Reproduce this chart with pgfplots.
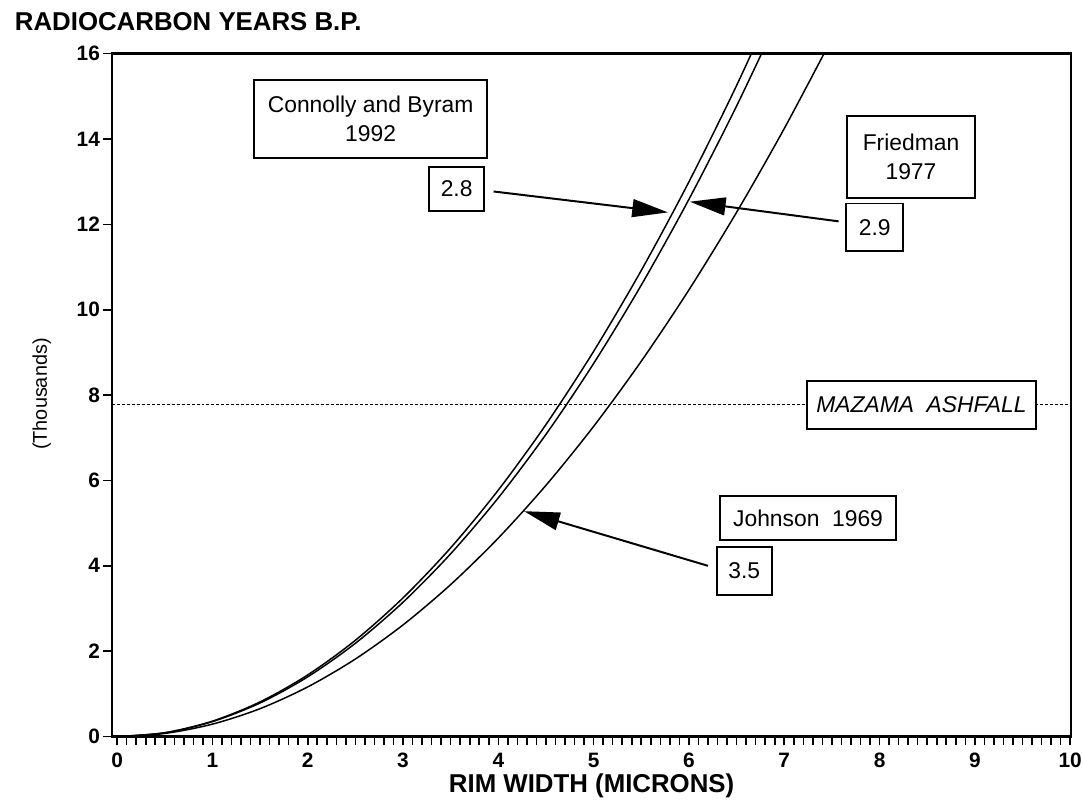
\documentclass[border=0pt]{standalone}
\usepackage{pgfplots}
\pgfplotsset{compat=1.18}
\usepackage{fontspec}
\setmainfont{Liberation Sans}
\usetikzlibrary{arrows.meta}
\tikzset{
  box/.style={draw, line width=1pt, fill=white, inner sep=0pt, align=center,
     font=\fontsize{11.5}{14.5}\selectfont},
  arr/.style={line width=1pt, -{Triangle[length=18pt,width=9pt]}},
}

\begin{document}
\begin{tikzpicture}
\useasboundingbox (-56.5pt,-36pt) rectangle (489pt,371pt);
\begin{axis}[
  at={(0,0)}, anchor=south west,
  scale only axis, width=483pt, height=344pt,
  xmin=-0.052, xmax=10.01, ymin=0, ymax=16,
  xtick={0,1,...,10}, ytick={0,2,...,16},
  minor x tick num=9,
  tick pos=left, tick align=outside,
  major tick length=4.5pt, minor tick length=4pt,
  every tick/.style={black, line width=0.8pt},
  axis line style={line width=1.2pt},
  ticklabel style={font=\bfseries\fontsize{10.5}{12}\selectfont},
  xticklabel style={inner sep=0pt, anchor=north, yshift=-3.5pt},
  yticklabel style={inner sep=0pt, anchor=east, xshift=-1.5pt},
  /pgf/number format/assume math mode=true,
  clip mode=individual,
]
% Connolly and Byram 1992 (2.8)
\addplot[black, line width=0.75pt, smooth] coordinates {
(0,0) (0.5,0.090) (1,0.361) (1.5,0.812) (2,1.444) (2.5,2.256) (3,3.249)
(3.5,4.422) (4,5.776) (4.5,7.310) (5,9.025) (5.5,10.921) (6,12.996)
(6.5,15.253) (7,17.690)};
% Friedman 1977 (2.9)
\addplot[black, line width=0.75pt, smooth] coordinates {
(0,0) (0.5,0.087) (1,0.350) (1.5,0.787) (2,1.399) (2.5,2.185) (3,3.147)
(3.5,4.283) (4,5.594) (4.5,7.080) (5,8.741) (5.5,10.577) (6,12.587)
(6.5,14.773) (7,17.133)};
% Johnson 1969 (3.5)
\addplot[black, line width=0.75pt, smooth] coordinates {
(0,0) (0.5,0.073) (1,0.291) (1.5,0.654) (2,1.163) (2.5,1.817) (3,2.616)
(3.5,3.561) (4,4.651) (4.5,5.887) (5,7.267) (5.5,8.794) (6,10.465)
(6.5,12.282) (7,14.244) (7.5,16.352)};
% Mazama ashfall
\addplot[black, line width=0.6pt, dash pattern=on 1.5pt off 1pt] coordinates {(-0.052,7.78) (10.01,7.78)};

\node[box, minimum width=117.5pt, minimum height=39.5pt] at (axis cs:2.66,14.47) {Connolly and Byram\\1992};
\node[box, minimum width=28pt, minimum height=22.5pt] at (axis cs:3.5625,12.83) {2.8};
\node[box, minimum width=64.5pt, minimum height=41.5pt] at (axis cs:8.33,13.58) {Friedman\\1977};
\node[box, minimum width=28.5pt, minimum height=24pt] at (axis cs:7.95,11.93) {2.9};
\node[box, minimum width=115pt, minimum height=24pt, font=\itshape\fontsize{11.5}{14}\selectfont] at (axis cs:8.44,7.77) {MAZAMA~~ASHFALL};
\node[box, minimum width=89pt, minimum height=22.5pt] at (axis cs:7.25,5.12) {Johnson~~1969};
\node[box, minimum width=27.5pt, minimum height=24.5pt] at (axis cs:6.58,3.88) {3.5};

\draw[arr] (axis cs:3.95,12.77) -- (axis cs:5.78,12.28);
\draw[arr] (axis cs:7.57,12.07) -- (axis cs:6.01,12.53);
\draw[arr] (axis cs:6.20,4.0) -- (axis cs:4.27,5.28);
\end{axis}
\node[anchor=west, font=\bfseries\fontsize{13}{15}\selectfont] at (-52.5pt,360pt) {RADIOCARBON YEARS B.P.};
\node[font=\bfseries\fontsize{13}{15}\selectfont] at (241.5pt,-25pt) {RIM WIDTH (MICRONS)};
\node[rotate=90, font=\fontsize{10}{12}\selectfont] at (-35.5pt,172.5pt) {(Thousands)};
\end{tikzpicture}
\end{document}
